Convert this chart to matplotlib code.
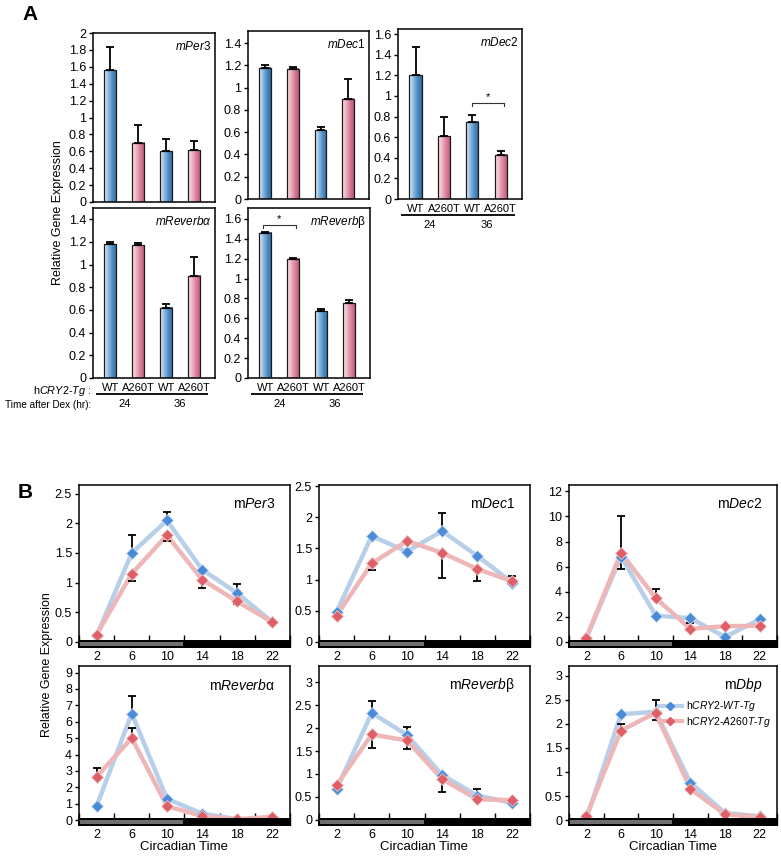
import numpy as np
import matplotlib
matplotlib.use('Agg')
import matplotlib.pyplot as plt
from matplotlib.colors import LinearSegmentedColormap
from matplotlib.patches import Rectangle
from matplotlib.lines import Line2D
import matplotlib.transforms as mtrans

plt.rcParams['font.family'] = ['Liberation Sans', 'DejaVu Sans']
plt.rcParams['mathtext.fontset'] = 'custom'
plt.rcParams['mathtext.rm'] = 'Liberation Sans'
plt.rcParams['mathtext.it'] = 'Liberation Sans:italic'
plt.rcParams['mathtext.bf'] = 'Liberation Sans:bold'

# ---------------- Panel A data ----------------
genotypes = ['WT', 'A260T', 'WT', 'A260T']
dex_times = ['24', '36']
a_titles = [r'$\mathit{mPer3}$', r'$\mathit{mDec1}$', r'$\mathit{mDec2}$',
            r'$\mathit{mReverb\alpha}$', r'$\mathit{mReverb}$β']
a_per3 = [1.56, 0.70, 0.60, 0.61]
a_per3_err = [0.27, 0.21, 0.14, 0.11]
a_dec1 = [1.18, 1.17, 0.62, 0.90]
a_dec1_err = [0.02, 0.02, 0.03, 0.18]
a_dec2 = [1.20, 0.61, 0.75, 0.43]
a_dec2_err = [0.28, 0.19, 0.07, 0.04]
a_reva = [1.18, 1.17, 0.62, 0.90]
a_reva_err = [0.02, 0.02, 0.03, 0.17]
a_revb = [1.46, 1.20, 0.67, 0.75]
a_revb_err = [0.01, 0.01, 0.02, 0.03]

# ---------------- Panel B data ----------------
ct = [2, 6, 10, 14, 18, 22]
b_titles = [r'm$\mathit{Per3}$', r'm$\mathit{Dec1}$', r'm$\mathit{Dec2}$',
            r'm$\mathit{Reverb}$α', r'm$\mathit{Reverb}$β', r'm$\mathit{Dbp}$']
wt_per3 = [0.10, 1.50, 2.05, 1.22, 0.82, 0.33]
mu_per3 = [0.12, 1.15, 1.80, 1.05, 0.68, 0.33]
wt_dec1 = [0.48, 1.70, 1.45, 1.78, 1.38, 0.95]
mu_dec1 = [0.42, 1.26, 1.62, 1.43, 1.17, 0.97]
wt_dec2 = [0.30, 6.80, 2.10, 1.90, 0.40, 1.80]
mu_dec2 = [0.35, 7.10, 3.50, 1.05, 1.25, 1.30]
wt_reva = [0.85, 6.50, 1.30, 0.40, 0.05, 0.10]
mu_reva = [2.65, 5.00, 0.85, 0.25, 0.05, 0.20]
wt_revb = [0.67, 2.33, 1.85, 0.98, 0.53, 0.37]
mu_revb = [0.76, 1.86, 1.73, 0.89, 0.45, 0.43]
wt_dbp = [0.03, 2.20, 2.25, 0.78, 0.15, 0.08]
mu_dbp = [0.08, 1.86, 2.23, 0.65, 0.12, 0.07]
# error bars (upper / lower lengths)
wt_per3_up = [0, 0.30, 0.15, 0, 0.15, 0]
wt_per3_dn = [0, 0, 0, 0, 0, 0]
mu_per3_up = [0, 0, 0, 0, 0, 0]
mu_per3_dn = [0, 0.12, 0.10, 0.15, 0.05, 0]
wt_dec1_up = [0, 0, 0, 0.29, 0, 0.10]
wt_dec1_dn = [0, 0, 0, 0, 0, 0]
mu_dec1_up = [0, 0, 0, 0, 0, 0]
mu_dec1_dn = [0, 0.11, 0, 0.40, 0.20, 0]
wt_dec2_up = [0, 3.20, 0, 0, 0, 0]
wt_dec2_dn = [0, 0, 0, 0.40, 0, 0]
mu_dec2_up = [0, 0, 0.70, 0, 0, 0]
mu_dec2_dn = [0, 1.30, 0, 0, 0, 0]
wt_reva_up = [0, 1.10, 0, 0, 0, 0]
wt_reva_dn = [0, 0, 0, 0, 0, 0]
mu_reva_up = [0.55, 0.60, 0, 0, 0, 0]
mu_reva_dn = [0, 0, 0, 0, 0, 0]
wt_revb_up = [0, 0.25, 0.17, 0, 0.15, 0]
wt_revb_dn = [0, 0, 0, 0, 0, 0]
mu_revb_up = [0, 0, 0, 0, 0, 0]
mu_revb_dn = [0, 0.29, 0.18, 0.29, 0, 0]
wt_dbp_up = [0, 0, 0.25, 0, 0, 0]
wt_dbp_dn = [0, 0, 0, 0, 0, 0]
mu_dbp_up = [0, 0.14, 0, 0, 0, 0]
mu_dbp_dn = [0, 0, 0.15, 0, 0, 0]
legend_labels = [r'h$\mathit{CRY2}$-$\mathit{WT}$-$\mathit{Tg}$',
                 r'h$\mathit{CRY2}$-$\mathit{A260T}$-$\mathit{Tg}$']

W, H = 781, 857
fig = plt.figure(figsize=(W / 100, H / 100), dpi=100)


def add_ax(l, t, r, b):
    return fig.add_axes([l / W, 1 - b / H, (r - l) / W, (b - t) / H])


def ftxt(x, y, s, **kw):
    fig.text(x / W, 1 - y / H, s, **kw)


blue_cmap = LinearSegmentedColormap.from_list('b', ['#eef4fa', '#8dbadf', '#4d8cc0', '#2f6a9e'])
pink_cmap = LinearSegmentedColormap.from_list('p', ['#fcecf0', '#eeb0c0', '#d77d97', '#b8557a'])
grad = np.linspace(0, 1, 64).reshape(1, -1)

xpos = np.arange(4)
bw = 0.43


def bar_panel(ax, vals, errs, ymax, yticks, title, ticklabels=True):
    for i, (x, v, e) in enumerate(zip(xpos, vals, errs)):
        cm = blue_cmap if i % 2 == 0 else pink_cmap
        ax.imshow(grad, cmap=cm, extent=(x - bw / 2, x + bw / 2, 0, v), aspect='auto',
                  zorder=2, interpolation='bilinear')
        ax.bar(x, v, width=bw, fill=False, edgecolor='#1a1a1a', lw=0.9, zorder=3)
        ax.errorbar(x, v, yerr=[[0], [e]], fmt='none', ecolor='k', elinewidth=1.3,
                    capsize=3, capthick=1.3, zorder=4)
    ax.set_xlim(-0.62, 3.75)
    ax.set_ylim(0, ymax)
    ax.set_yticks(yticks)
    ax.set_yticklabels([('%g' % t) for t in yticks], fontsize=9)
    ax.set_xticks([])
    ax.tick_params(axis='y', direction='out', length=3, width=1, pad=2)
    for s in ax.spines.values():
        s.set_linewidth(1.1)
    ax.text(0.97, 0.92, title, transform=ax.transAxes, ha='right', va='center', fontsize=8.5)
    if ticklabels:
        tr1 = mtrans.offset_copy(ax.get_xaxis_transform(), fig=fig, y=-10, units='dots')
        tr2 = mtrans.offset_copy(ax.get_xaxis_transform(), fig=fig, y=-16, units='dots')
        tr3 = mtrans.offset_copy(ax.get_xaxis_transform(), fig=fig, y=-26, units='dots')
        for x, g in zip(xpos, genotypes):
            ax.text(x, 0, g, transform=tr1, ha='center', va='center', fontsize=8)
        for k, t in enumerate(dex_times):
            x0, x1 = xpos[2 * k], xpos[2 * k + 1]
            ax.plot([x0 - 0.5, x1 + 0.5], [0, 0], transform=tr2, color='k', lw=1.3,
                    clip_on=False, solid_capstyle='butt')
            ax.text((x0 + x1) / 2, 0, t, transform=tr3, ha='center', va='center', fontsize=8)


def bracket(ax, x0, x1, y, dy):
    ax.plot([x0, x0, x1, x1], [y - dy, y, y, y - dy], color='#333', lw=0.8, zorder=5)
    ax.text((x0 + x1) / 2, y + dy * 0.4, '*', ha='center', va='bottom', fontsize=8)


axA1 = add_ax(93, 33, 215, 202)
bar_panel(axA1, a_per3, a_per3_err, 2.0, np.arange(0, 2.01, 0.2), a_titles[0], ticklabels=False)
axA2 = add_ax(248, 31, 369, 199)
bar_panel(axA2, a_dec1, a_dec1_err, 1.51, np.arange(0, 1.41, 0.2), a_titles[1], ticklabels=False)
axA3 = add_ax(398, 29, 522, 199)
bar_panel(axA3, a_dec2, a_dec2_err, 1.65, np.arange(0, 1.61, 0.2), a_titles[2])
bracket(axA3, 2.0, 3.1, 0.93, 0.03)
axA4 = add_ax(93, 208, 215, 378)
bar_panel(axA4, a_reva, a_reva_err, 1.5, np.arange(0, 1.41, 0.2), a_titles[3])
axA5 = add_ax(248, 208, 370, 378)
bar_panel(axA5, a_revb, a_revb_err, 1.71, np.arange(0, 1.61, 0.2), a_titles[4])
bracket(axA5, -0.1, 1.1, 1.54, 0.03)

ftxt(91, 391, r'h$\mathit{CRY2}$-$\mathit{Tg}$ :', ha='right', va='center', fontsize=7.8)
ftxt(91, 405, 'Time after Dex (hr):', ha='right', va='center', fontsize=7.2)
ftxt(58, 213, 'Relative Gene Expression', rotation=90, ha='center', va='center', fontsize=9)
ftxt(22, 15, 'A', ha='left', va='center', fontsize=15, fontweight='bold')
ftxt(18, 493, 'B', ha='left', va='center', fontsize=15, fontweight='bold')

# ---------------- Panel B ----------------
blue_m, blue_l = '#4a8ad6', '#b8cfea'
red_m, red_l = '#de5f66', '#edb7b8'


def line_panel(ax, wt, mu, wt_up, wt_dn, mu_up, mu_dn, ylim, yticks, title, xlabel=False):
    ax.plot(ct, wt, color=blue_l, lw=3.2, zorder=2, solid_capstyle='round')
    ax.plot(ct, mu, color=red_l, lw=3.2, zorder=2, solid_capstyle='round')
    ax.errorbar(ct, wt, yerr=[wt_dn, wt_up], fmt='none', ecolor='k', elinewidth=1.3,
                capsize=3, capthick=1.3, zorder=3)
    ax.errorbar(ct, mu, yerr=[mu_dn, mu_up], fmt='none', ecolor='k', elinewidth=1.3,
                capsize=3, capthick=1.3, zorder=3)
    ax.plot(ct, wt, ls='none', marker='D', ms=6.5, color=blue_m, mec='#c7dbf2', mew=0.6, zorder=4)
    ax.plot(ct, mu, ls='none', marker='D', ms=6.5, color=red_m, mec='#f2c7c8', mew=0.6, zorder=5)
    ax.set_xlim(0, 24)
    ax.set_ylim(*ylim)
    ax.set_yticks(yticks)
    ax.set_yticklabels([('%g' % t) for t in yticks], fontsize=9)
    ax.set_xticks(ct)
    ax.set_xticklabels([str(c) for c in ct], fontsize=9)
    ax.set_xticks(np.arange(0, 25, 4), minor=True)
    ax.tick_params(axis='x', which='major', length=0, pad=3)
    ax.tick_params(axis='x', which='minor', direction='in', length=9, width=1)
    ax.tick_params(axis='y', direction='out', length=3, width=1, pad=2)
    for s in ax.spines.values():
        s.set_linewidth(1.1)
    tr = ax.get_xaxis_transform()
    ax.add_patch(Rectangle((0, 0), 12, 0.035, transform=tr, facecolor='#707070',
                           edgecolor='k', lw=1.4, zorder=6, clip_on=False))
    ax.add_patch(Rectangle((12, 0), 12, 0.035, transform=tr, facecolor='k',
                           edgecolor='k', lw=1.4, zorder=6, clip_on=False))
    ax.text(0.93, 0.88, title, transform=ax.transAxes, ha='right', va='center', fontsize=10)
    if xlabel:
        ax.set_xlabel('Circadian Time', fontsize=9.5, labelpad=0)


bx = [(79, 290), (319, 530), (569, 777)]
r1 = (485, 647)
r2 = (666, 825)
axB1 = add_ax(bx[0][0], r1[0], bx[0][1], r1[1])
line_panel(axB1, wt_per3, mu_per3, wt_per3_up, wt_per3_dn, mu_per3_up, mu_per3_dn,
           (-0.09, 2.65), [0, 0.5, 1, 1.5, 2, 2.5], b_titles[0])
axB2 = add_ax(bx[1][0], r1[0], bx[1][1], r1[1])
line_panel(axB2, wt_dec1, mu_dec1, wt_dec1_up, wt_dec1_dn, mu_dec1_up, mu_dec1_dn,
           (-0.085, 2.52), [0, 0.5, 1, 1.5, 2, 2.5], b_titles[1])
axB3 = add_ax(bx[2][0], r1[0], bx[2][1], r1[1])
line_panel(axB3, wt_dec2, mu_dec2, wt_dec2_up, wt_dec2_dn, mu_dec2_up, mu_dec2_dn,
           (-0.4, 12.5), [0, 2, 4, 6, 8, 10, 12], b_titles[2])
axB4 = add_ax(bx[0][0], r2[0], bx[0][1], r2[1])
line_panel(axB4, wt_reva, mu_reva, wt_reva_up, wt_reva_dn, mu_reva_up, mu_reva_dn,
           (-0.3, 9.4), list(range(10)), b_titles[3], xlabel=True)
axB5 = add_ax(bx[1][0], r2[0], bx[1][1], r2[1])
line_panel(axB5, wt_revb, mu_revb, wt_revb_up, wt_revb_dn, mu_revb_up, mu_revb_dn,
           (-0.11, 3.35), [0, 0.5, 1, 1.5, 2, 2.5, 3], b_titles[4], xlabel=True)
axB6 = add_ax(bx[2][0], r2[0], bx[2][1], r2[1])
line_panel(axB6, wt_dbp, mu_dbp, wt_dbp_up, wt_dbp_dn, mu_dbp_up, mu_dbp_dn,
           (-0.1, 3.2), [0, 0.5, 1, 1.5, 2, 2.5, 3], b_titles[5], xlabel=True)

handles = [Line2D([], [], color=blue_l, lw=3, marker='D', ms=4, mfc=blue_m, mec=blue_m),
           Line2D([], [], color=red_l, lw=3, marker='D', ms=4, mfc=red_m, mec=red_m)]
axB6.legend(handles, legend_labels, loc='upper right', bbox_to_anchor=(1.0, 0.83),
            frameon=False, fontsize=7.5, handlelength=2.2, handletextpad=0.4,
            labelspacing=0.15, borderaxespad=0.2)

ftxt(47, 665, 'Relative Gene Expression', rotation=90, ha='center', va='center', fontsize=9)

fig.savefig('out.png', dpi=100)
